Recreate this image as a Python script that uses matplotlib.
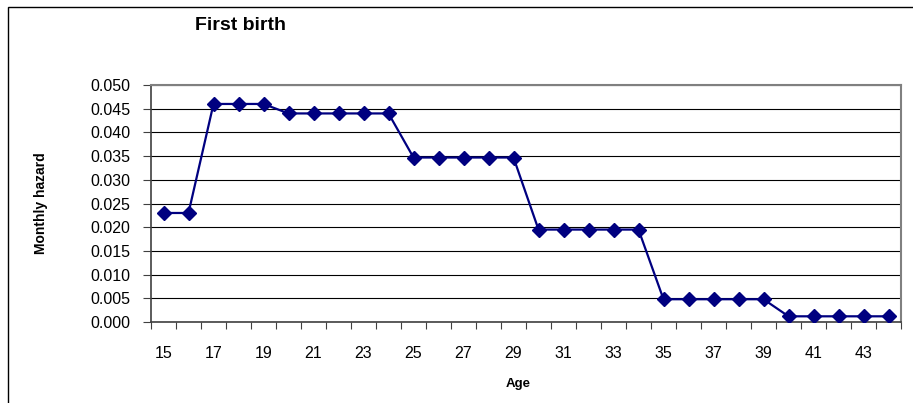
import matplotlib
matplotlib.use("Agg")
import matplotlib.pyplot as plt
from matplotlib.patches import Rectangle

plt.rcParams['font.family'] = ['Liberation Sans', 'DejaVu Sans']

# данные: возраст и месячный риск первого рождения
ages = list(range(15, 45))
hazard = [0.023, 0.023,
          0.046, 0.046, 0.046,
          0.044, 0.044, 0.044, 0.044, 0.044,
          0.0347, 0.0347, 0.0347, 0.0347, 0.0347,
          0.0195, 0.0195, 0.0195, 0.0195, 0.0195,
          0.0048, 0.0048, 0.0048, 0.0048, 0.0048,
          0.0012, 0.0012, 0.0012, 0.0012, 0.0012]
yticks = [i * 0.005 for i in range(11)]

fig = plt.figure(figsize=(9.13, 4.03), dpi=100)
ax = fig.add_axes([151 / 913, 1 - 322 / 403, 750 / 913, 237 / 403])

# рамка всей диаграммы
fig.patches.append(Rectangle((8 / 913, -0.5), 2.0, 1.5 - 7 / 403, transform=fig.transFigure,
                             fill=False, edgecolor='black', linewidth=1.0))

x = list(range(len(ages)))
ax.plot(x, hazard, color='#000080', linewidth=1.6, marker='D', markersize=7,
        markerfacecolor='#000080', markeredgecolor='#000080', zorder=3)

ax.set_xlim(-0.5, len(ages) - 0.5)
ax.set_ylim(0, 0.05)
ax.set_yticks(yticks)
ax.set_yticklabels(['%.3f' % v for v in yticks], fontsize=11.5)
ax.yaxis.grid(True, color='black', linewidth=0.8)
ax.set_axisbelow(True)

# метки категорий по центру, риски между категориями
ax.set_xticks([i - 0.5 for i in range(len(ages) + 1)], minor=True)
ax.set_xticks(x[::2])
ax.set_xticklabels([str(a) for a in ages[::2]], fontsize=11.5)
ax.tick_params(axis='x', which='major', length=0, pad=17)
ax.tick_params(axis='x', which='minor', length=5, width=0.8, color='#404040')
ax.tick_params(axis='y', length=6, width=0.8, color='#404040', pad=9)

for s in ['top', 'right']:
    ax.spines[s].set_color('#808080')
    ax.spines[s].set_linewidth(1.5)
for s in ['left', 'bottom']:
    ax.spines[s].set_color('#404040')
    ax.spines[s].set_linewidth(1.2)

ax.set_ylabel('Monthly hazard', fontsize=10, fontweight='bold')
ax.yaxis.set_label_coords(-0.137, 0.5)
ax.set_xlabel('Age', fontsize=9.5, fontweight='bold')
ax.xaxis.set_label_coords(0.49, -0.235)

fig.text(240 / 913, 1 - 26 / 403, 'First birth', fontsize=14, fontweight='bold',
         ha='center', va='center')

fig.savefig('out.png', dpi=100)
